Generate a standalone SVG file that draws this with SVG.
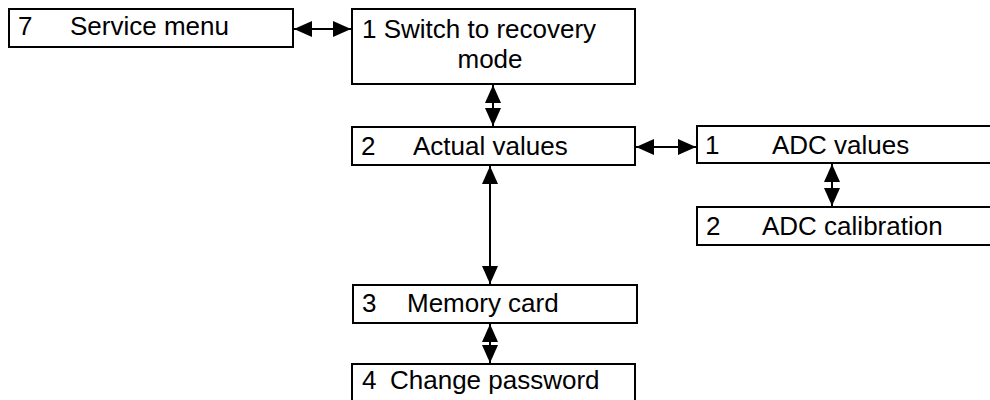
<svg xmlns="http://www.w3.org/2000/svg" width="990" height="400" viewBox="0 0 990 400">
<style>
.box{fill:#fff;stroke:#000;stroke-width:2}
.t{font-family:"Liberation Sans",Arial,sans-serif;font-size:26px;fill:#000}
.c{stroke:#000;stroke-width:2;fill:none;marker-start:url(#ah);marker-end:url(#ah)}
</style>
<defs>
<marker id="ah" markerUnits="userSpaceOnUse" markerWidth="20" markerHeight="20" viewBox="0 0 20 20" refX="19" refY="10" orient="auto-start-reverse">
<path d="M1,2 L19,10 L1,18 Z" fill="#000"/>
</marker>
</defs>
<rect width="990" height="400" fill="#fff"/>
<g id="connectors">
<line class="c" x1="294" y1="29" x2="351" y2="29"/>
<line class="c" x1="493" y1="85" x2="493" y2="126"/>
<line class="c" x1="636" y1="147" x2="696" y2="147"/>
<line class="c" x1="832" y1="164" x2="832" y2="206"/>
<line class="c" x1="490" y1="166" x2="490" y2="284"/>
<line class="c" x1="490" y1="324" x2="490" y2="363"/>
</g>
<g id="service-menu">
<rect class="box" x="9" y="9" width="284" height="38"/>
<text class="t" x="18" y="35">7</text>
<text class="t" x="70" y="35">Service menu</text>
</g>
<g id="switch-recovery">
<rect class="box" x="352" y="9" width="283" height="75"/>
<text class="t" x="362" y="38">1 Switch to recovery</text>
<text class="t" x="490" y="68" text-anchor="middle">mode</text>
</g>
<g id="actual-values">
<rect class="box" x="352" y="127" width="283" height="38"/>
<text class="t" x="361" y="155">2</text>
<text class="t" x="413" y="155">Actual values</text>
</g>
<g id="adc-values">
<rect class="box" x="697" y="126" width="310" height="37"/>
<text class="t" x="705" y="154">1</text>
<text class="t" x="772" y="154">ADC values</text>
</g>
<g id="adc-calibration">
<rect class="box" x="697" y="207" width="310" height="38"/>
<text class="t" x="706" y="235">2</text>
<text class="t" x="762" y="235">ADC calibration</text>
</g>
<g id="memory-card">
<rect class="box" x="353" y="285" width="284" height="38"/>
<text class="t" x="362" y="312">3</text>
<text class="t" x="407" y="312">Memory card</text>
</g>
<g id="change-password">
<rect class="box" x="352" y="364" width="283" height="50"/>
<text class="t" x="362" y="389">4</text>
<text class="t" x="390" y="389">Change password</text>
</g>
</svg>
